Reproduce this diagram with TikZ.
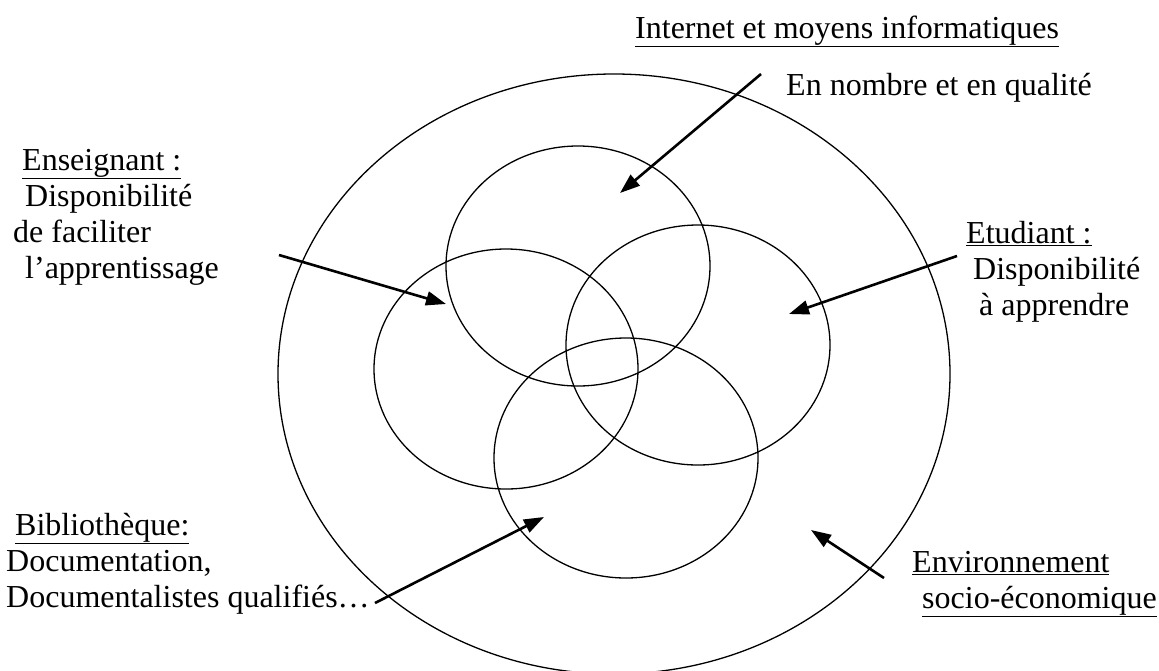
\documentclass[tikz,border=0pt]{standalone}
\usepackage{fontspec}
\setmainfont{Liberation Serif}
\usetikzlibrary{shapes.geometric,arrows.meta}
\tikzset{
  zone/.style={draw, ellipse, line width=1.3pt, minimum width=264pt, minimum height=240pt, inner sep=0pt},
  fleche/.style={line width=2.6pt, -{Triangle[length=20pt,width=14pt]}},
  txt/.style={anchor=base west, align=left, inner sep=0pt, font=\fontsize{32}{36}\selectfont}
}
\begin{document}
\begin{tikzpicture}[x=1pt,y=-1pt]
\useasboundingbox (0,0) rectangle (1159,670);

\node[zone, minimum width=672pt, minimum height=600pt] (milieu) at (614,374) {};
\node[zone] (internet) at (578,266) {};
\node[zone] (enseignant) at (506,369) {};
\node[zone] (etudiant) at (698,345) {};
\node[zone] (biblio) at (626,458) {};

% le texte multi-ligne se place par la ligne du bas
\node[txt] (titreinternet) at (635,38) {\underline{Internet et moyens informatiques}};
\node[txt] (qualite) at (786,95) {En nombre et en qualité};
\node[txt] (txtenseignant) at (13,278) {\hspace*{9pt}\underline{Enseignant :}\\ \hspace*{12pt}Disponibilité\\ de faciliter\\ \hspace*{12pt}l’apprentissage};
\node[txt] (txtetudiant) at (966,315) {\underline{Etudiant :}\\ \hspace*{7pt}Disponibilité\\ \hspace*{13pt}à apprendre};
\node[txt] (txtbiblio) at (6,607) {\hspace*{9pt}\underline{Bibliothèque:}\\ Documentation,\\ Documentalistes qualifiés…};
\node[txt] (txtmilieu) at (912,608) {\underline{Environnement}\\ \hspace*{10pt}\underline{socio-économique}};

\coordinate (d1) at (761,74);  \coordinate (f1) at (620,193);
\coordinate (d2) at (279,255); \coordinate (f2) at (446,304);
\coordinate (d3) at (957,256); \coordinate (f3) at (789,314);
\coordinate (d4) at (375,603); \coordinate (f4) at (544,517);
\coordinate (d5) at (884,578); \coordinate (f5) at (811,530);

\draw[fleche] (d1) -- (f1);
\draw[fleche] (d2) -- (f2);
\draw[fleche] (d3) -- (f3);
\draw[fleche] (d4) -- (f4);
\draw[fleche] (d5) -- (f5);

\end{tikzpicture}
\end{document}
